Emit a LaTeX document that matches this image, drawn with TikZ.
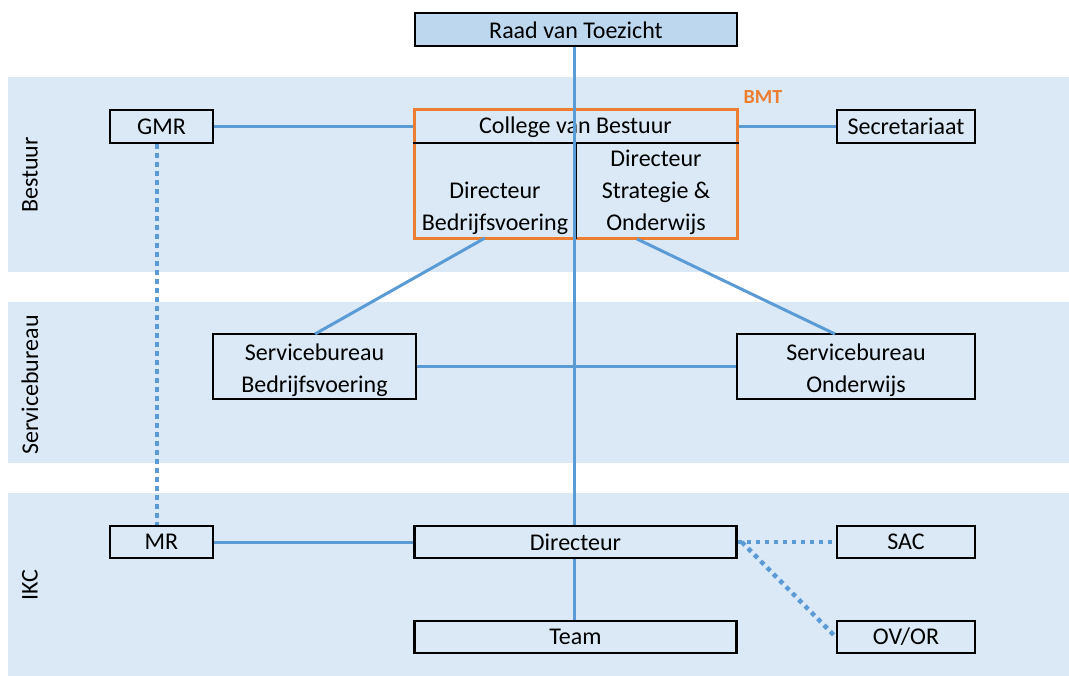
\documentclass[tikz,border=0pt]{standalone}
\usepackage{fontspec}
\setmainfont{Carlito}
\definecolor{band}{HTML}{DAE9F5}
\definecolor{raadfill}{HTML}{BDD7EE}
\definecolor{lnblue}{HTML}{5B9BD5}
\definecolor{bmtorange}{HTML}{ED7D31}
\begin{document}
\begin{tikzpicture}[x=1pt,y=-1pt,
  every node/.style={font=\fontsize{24}{32}\selectfont, inner sep=0pt},
  orgbox/.style={draw=black, line width=2.5pt, align=center},
  conn/.style={draw=lnblue, line width=3pt},
  dotconn/.style={draw=lnblue, line width=4.5pt, dash pattern=on 4.5pt off 4.5pt},
  bandlabel/.style={rotate=90}]
\useasboundingbox (0,0) rectangle (1069,676);
% bands
\fill[band] (8,77) rectangle (1069,272);
\fill[band] (8,302) rectangle (1069,463);
\fill[band] (8,493) rectangle (1069,676);
\node[bandlabel] (lb1) at (30,175) {Bestuur};
\node[bandlabel] (lb2) at (30,385) {Servicebureau};
\node[bandlabel] (lb3) at (30,585) {IKC};
% nodes
\node[orgbox, fill=raadfill, minimum width=322pt, minimum height=33pt, text depth=0pt] (raad) at (576,29.5) {\raisebox{-1.5pt}{Raad van Toezicht}};
\node[orgbox, minimum width=103pt, minimum height=33pt] (gmr) at (161.5,126.5) {GMR};
\node[orgbox, minimum width=138pt, minimum height=33pt] (secr) at (906,126.5) {Secretariaat};
\node[draw=bmtorange, line width=3pt, minimum width=323pt, minimum height=129pt] (bmt) at (575.5,174.5) {};
\node[minimum width=323pt, minimum height=33pt] (cvb) at (575.5,127.5) {College van Bestuur};
\draw[black, line width=2.5pt] (bmt.west |- 0,143) -- (bmt.east |- 0,143);
\draw[black, line width=2pt] (576,143) -- (576,239);
\node[align=center] (dbv) at (495,208) {Directeur\\Bedrijfsvoering};
\node[align=center] (dso) at (656,192) {Directeur\\Strategie \&\\Onderwijs};
\node[font=\fontsize{20}{22}\selectfont\bfseries, text=bmtorange] (bmtlabel) at (763,97) {BMT};
\node[orgbox, minimum width=203pt, minimum height=65pt] (sbb) at (314.5,366.5) {\raisebox{-4pt}[\height][\depth]{\begin{tabular}{@{}c@{}}Servicebureau\\Bedrijfsvoering\end{tabular}}};
\node[orgbox, minimum width=238pt, minimum height=65pt] (sbo) at (856,366.5) {\raisebox{-4pt}[\height][\depth]{\begin{tabular}{@{}c@{}}Servicebureau\\Onderwijs\end{tabular}}};
\node[orgbox, minimum width=103pt, minimum height=32pt] (mr) at (161.5,542) {MR};
\node[orgbox, minimum width=322pt, minimum height=32pt] (dir) at (575.5,542) {Directeur};
\node[orgbox, minimum width=322pt, minimum height=32pt] (team) at (575.5,637) {Team};
\node[orgbox, minimum width=138pt, minimum height=32pt] (sac) at (906,542) {SAC};
\node[orgbox, minimum width=138pt, minimum height=32pt] (ovor) at (906,637) {OV/OR};
% connectors
\coordinate (topv) at (574,46);
\draw[conn] (raad.south -| topv) -- (dir.north -| topv);
\draw[conn] (dir.south -| topv) -- (team.north -| topv);
\draw[conn] (gmr.east) -- (bmt.west |- gmr.east);
\draw[conn] (bmt.east |- secr.west) -- (secr.west);
\coordinate (dbvb) at (485,238);
\coordinate (dsob) at (637,239);
\coordinate (sbbtop) at (315,334);
\coordinate (sbotop) at (835,334);
\draw[conn] (dbvb) -- (sbbtop);
\draw[conn] (dsob) -- (sbotop);
\draw[conn] (sbb.east) -- (sbo.west);
\draw[conn] (mr.east) -- (dir.west);
\coordinate (gmrdot) at (157,0);
\draw[dotconn] (gmr.south -| gmrdot) -- (mr.north -| gmrdot);
\draw[dotconn] (dir.east) -- (sac.west);
\draw[dotconn] ([xshift=4pt]dir.east) -- (ovor.west);
\end{tikzpicture}
\end{document}
